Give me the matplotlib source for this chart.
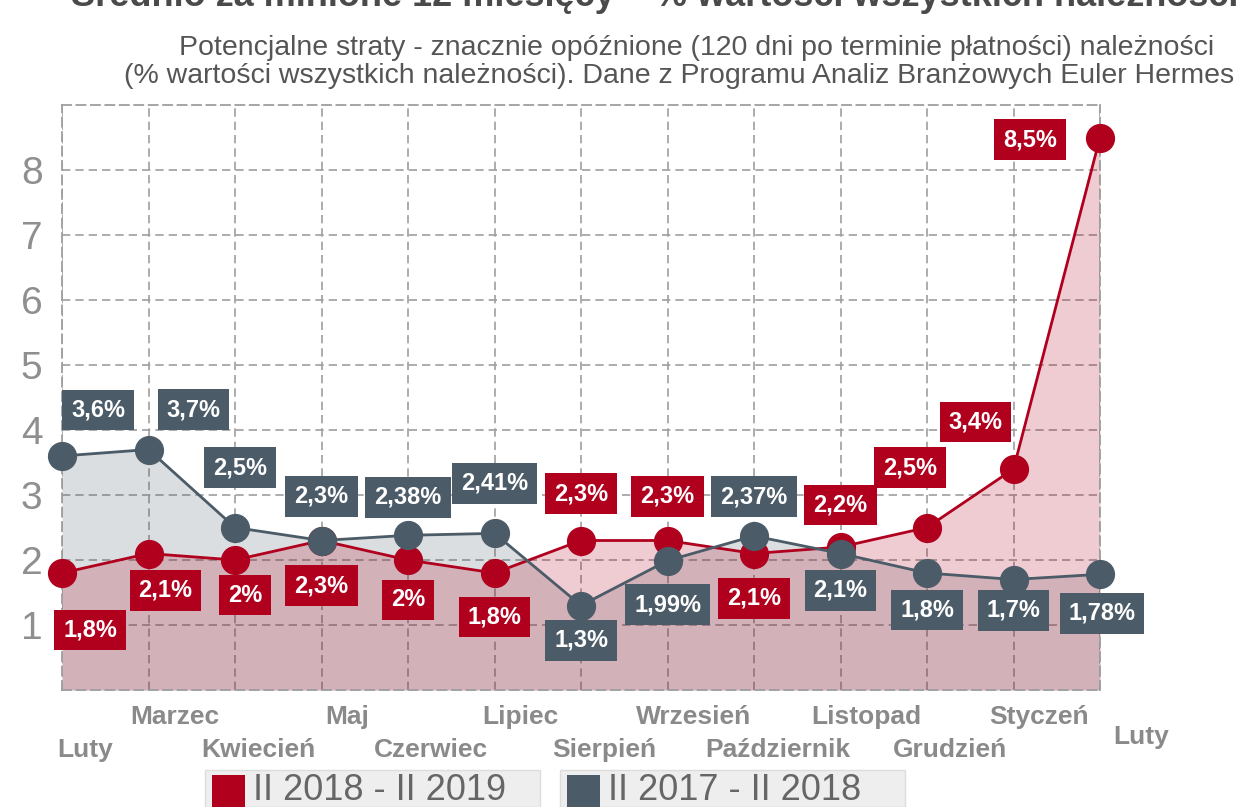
import matplotlib
matplotlib.use("Agg")
import matplotlib.pyplot as plt
from matplotlib.patches import Rectangle

months = ["Luty", "Marzec", "Kwiecień", "Maj", "Czerwiec", "Lipiec", "Sierpień",
          "Wrzesień", "Październik", "Listopad", "Grudzień", "Styczeń", "Luty"]
red_vals = [1.8, 2.1, 2.0, 2.3, 2.0, 1.8, 2.3, 2.3, 2.1, 2.2, 2.5, 3.4, 8.5]
red_text = ["1,8%", "2,1%", "2%", "2,3%", "2%", "1,8%", "2,3%", "2,3%", "2,1%",
            "2,2%", "2,5%", "3,4%", "8,5%"]
gray_vals = [3.6, 3.7, 2.5, 2.3, 2.38, 2.41, 1.3, 1.99, 2.37, 2.1, 1.8, 1.7, 1.78]
gray_text = ["3,6%", "3,7%", "2,5%", "2,3%", "2,38%", "2,41%", "1,3%", "1,99%",
             "2,37%", "2,1%", "1,8%", "1,7%", "1,78%"]
series_names = ["II 2018 - II 2019", "II 2017 - II 2018"]

# label offsets in pixels
red_off = [(28, -57), (17, -37), (10, -35), (0, -45), (0, -40), (0, -44), (0, 47),
           (0, 44), (0, -45), (0, 42), (-17, 60), (-38, 47), (-70, -2)]
gray_off = [(36, 46), (45, 40), (5, 60), (0, 44), (0, 38), (0, 50), (0, -35),
            (0, -44), (0, 39), (0, -37), (0, -37), (0, -31), (2, -39)]

RED = "#b0001e"
GRAY = "#4b5b67"
plt.rcParams['font.family'] = ["Liberation Sans", "DejaVu Sans"]

fig = plt.figure(figsize=(12.47, 8.07), dpi=100)
W, H = 1247, 807
ax = fig.add_axes([62 / W, 1 - 690 / H, (1100 - 62) / W, (690 - 105) / H])
x = list(range(len(months)))

ax.fill_between(x, 0, gray_vals, color=GRAY, alpha=0.2, lw=0, zorder=1)
ax.fill_between(x, 0, red_vals, color=RED, alpha=0.2, lw=0, zorder=1)
ax.plot(x, red_vals, color=RED, lw=2, marker="o", ms=20, zorder=3, clip_on=False)
ax.plot(x, gray_vals, color=GRAY, lw=2, marker="o", ms=20, zorder=4, clip_on=False)

for xi, v, t, off in zip(x, red_vals, red_text, red_off):
    ax.annotate(t, (xi, v), xytext=off, textcoords="offset pixels", ha="center",
                va="center", color="white", fontsize=17, fontweight="bold", zorder=6,
                bbox=dict(boxstyle="square,pad=0.38", fc=RED, ec="none"),
                annotation_clip=False)
for xi, v, t, off in zip(x, gray_vals, gray_text, gray_off):
    ax.annotate(t, (xi, v), xytext=off, textcoords="offset pixels", ha="center",
                va="center", color="white", fontsize=17, fontweight="bold", zorder=6,
                bbox=dict(boxstyle="square,pad=0.38", fc=GRAY, ec="none"),
                annotation_clip=False)

ax.set_xlim(0, 12)
ax.set_ylim(0, 9)
ax.set_yticks(range(1, 9))
ax.set_yticklabels([str(i) for i in range(1, 9)], fontsize=28, color="#8f8f8f")
ax.set_xticks(x)
ax.set_xticklabels([])
ax.tick_params(length=0, pad=14)
ax.grid(True, color="#9e9e9e", ls=(0, (5, 3)), lw=1.2)
ax.set_axisbelow(True)
for s in ax.spines.values():
    s.set_color("#9e9e9e")
    s.set_linestyle((0, (5, 3)))
    s.set_linewidth(1.3)

# two-row month labels
for i, m in enumerate(months):
    if i == len(months) - 1:
        ax.text(i + 0.47, -0.72, m, ha="center", va="center", fontsize=19,
                fontweight="bold", color="#8a8a8a")
    elif i % 2 == 1:
        ax.text(i + 0.3, -0.42, m, ha="center", va="center", fontsize=19,
                fontweight="bold", color="#8a8a8a")
    else:
        ax.text(i + 0.27, -0.92, m, ha="center", va="center", fontsize=19,
                fontweight="bold", color="#8a8a8a")

# title is cropped at the top edge, as in the source image
fig.text(655 / W, 1 - 6 / H, "Średnio za minione 12 miesięcy – % wartości wszystkich należności",
         ha="center", va="baseline", fontsize=26, fontweight="bold", color="#4a4a4a")
fig.text(697 / W, 1 - 48 / H,
         "Potencjalne straty - znacznie opóźnione (120 dni po terminie płatności) należności",
         ha="center", va="center", fontsize=20.5, color="#555555")
fig.text(679 / W, 1 - 76 / H,
         "(% wartości wszystkich należności). Dane z Programu Analiz Branżowych Euler Hermes",
         ha="center", va="center", fontsize=20.5, color="#555555")

# legend boxes
for (x0, x1), col, name in zip([(205, 540), (560, 905)], [RED, GRAY], series_names):
    fig.patches.append(Rectangle((x0 / W, 0), (x1 - x0) / W, 37 / H, transform=fig.transFigure,
                                 fc="#eeeeee", ec="#dddddd", lw=1))
    fig.patches.append(Rectangle(((x0 + 7) / W, 0), 33 / W, 32 / H, transform=fig.transFigure,
                                 fc=col, ec="none"))
    fig.text((x0 + 48) / W, 17 / H, name, ha="left", va="center", fontsize=26,
             color="#666666")

fig.savefig("out.png", dpi=100)
